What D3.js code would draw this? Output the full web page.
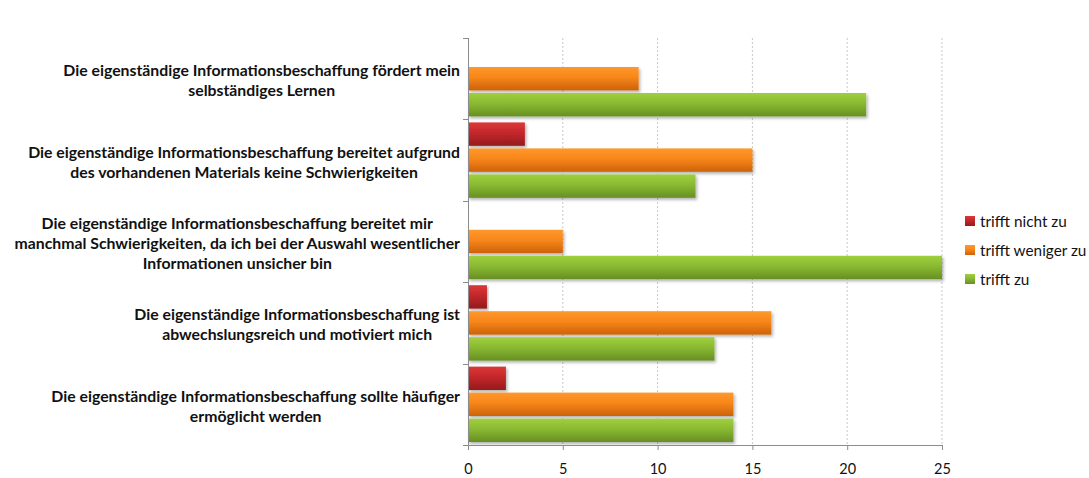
<!DOCTYPE html>
<html>
<head>
<meta charset="utf-8">
<script src="https://cdn.jsdelivr.net/npm/d3@7"></script>
<style>
  body { margin: 0; background: #fff; }
  svg { display: block; }
</style>
</head>
<body>
<svg id="chart" width="1089" height="478"></svg>
<script>
// Statements (one group of bars each), drawn top to bottom
const categories = [
  ["Die eigenständige Informationsbeschaffung fördert mein", "selbständiges Lernen"],
  ["Die eigenständige Informationsbeschaffung bereitet aufgrund", "des vorhandenen Materials keine Schwierigkeiten"],
  ["Die eigenständige Informationsbeschaffung bereitet mir", "manchmal Schwierigkeiten, da ich bei der Auswahl wesentlicher", "Informationen unsicher bin"],
  ["Die eigenständige Informationsbeschaffung ist", "abwechslungsreich und motiviert mich"],
  ["Die eigenständige Informationsbeschaffung sollte häufiger", "ermöglicht werden"]
];
const seriesNames = ["trifft nicht zu", "trifft weniger zu", "trifft zu"];
const trifftNichtZu = [0, 3, 0, 1, 2];
const trifftWenigerZu = [9, 15, 5, 16, 14];
const trifftZu = [21, 12, 25, 13, 14];
const xTicks = [0, 5, 10, 15, 20, 25];

const seriesValues = [trifftNichtZu, trifftWenigerZu, trifftZu];
const colors = [
  { top: "#dc3838", mid: "#c2272b", bottom: "#951a1c" },
  { top: "#ff982c", mid: "#f7861a", bottom: "#cc6208" },
  { top: "#a0cf3d", mid: "#89b932", bottom: "#678f23" }
];

const svg = d3.select("#chart");
const margin = { left: 468, right: 147, top: 38, bottom: 33 };
const W = 1089, H = 478;
const fontFamily = "Lato, 'Open Sans', sans-serif";

const x = d3.scaleLinear().domain([0, 25]).range([margin.left, W - margin.right]);
const y0 = d3.scaleBand().domain(d3.range(categories.length)).range([margin.top, H - margin.bottom]).padding(0);
const y1 = d3.scaleBand().domain(d3.range(seriesNames.length)).range([3, y0.bandwidth() - 3]).paddingInner(0.1);

const defs = svg.append("defs");
colors.forEach((c, i) => {
  const g = defs.append("linearGradient").attr("id", "grad" + i)
    .attr("x1", 0).attr("y1", 0).attr("x2", 0).attr("y2", 1);
  g.append("stop").attr("offset", "0%").attr("stop-color", c.top);
  g.append("stop").attr("offset", "45%").attr("stop-color", c.mid);
  g.append("stop").attr("offset", "100%").attr("stop-color", c.bottom);
});
const f = defs.append("filter").attr("id", "shadow")
  .attr("x", "-5%").attr("y", "-20%").attr("width", "115%").attr("height", "160%");
f.append("feDropShadow").attr("dx", 1.5).attr("dy", 2).attr("stdDeviation", 1.5)
  .attr("flood-color", "#000").attr("flood-opacity", 0.3);

// vertical dashed gridlines
svg.append("g").selectAll("line").data(xTicks.slice(1)).join("line")
  .attr("x1", d => x(d)).attr("x2", d => x(d))
  .attr("y1", margin.top).attr("y2", H - margin.bottom)
  .attr("stroke", "#c8c8c8").attr("stroke-dasharray", "2,2").attr("stroke-width", 1);

// bars
const groups = svg.append("g").selectAll("g").data(categories).join("g")
  .attr("transform", (d, i) => `translate(0,${y0(i)})`);
groups.selectAll("rect")
  .data((d, i) => seriesValues.map((vals, s) => ({ s, v: vals[i] })))
  .join("rect")
  .filter(d => d.v > 0)
  .attr("x", x(0))
  .attr("y", d => y1(d.s))
  .attr("width", d => x(d.v) - x(0))
  .attr("height", y1.bandwidth())
  .attr("fill", d => `url(#grad${d.s})`)
  .attr("filter", "url(#shadow)");

// axes
const axisColor = "#8c8c8c";
const xAxis = svg.append("g").attr("transform", `translate(0,${H - margin.bottom})`)
  .call(d3.axisBottom(x).tickValues(xTicks).tickSize(5).tickPadding(14));
xAxis.select(".domain").attr("stroke", axisColor).attr("d", `M${x(0) - 5},0.5H${x(25)}`);
xAxis.selectAll(".tick line").attr("stroke", axisColor);
xAxis.selectAll("text").attr("fill", "#111").style("font-family", fontFamily).style("font-size", "14.5px");

const yAxisG = svg.append("g").attr("transform", `translate(${margin.left},0)`);
yAxisG.append("line").attr("x1", 0.5).attr("x2", 0.5).attr("y1", margin.top).attr("y2", H - margin.bottom)
  .attr("stroke", axisColor);
yAxisG.selectAll("line.tk").data(d3.range(categories.length + 1)).join("line").attr("class", "tk")
  .attr("x1", -5).attr("x2", 0)
  .attr("y1", i => Math.round(margin.top + i * y0.step()) + 0.5)
  .attr("y2", i => Math.round(margin.top + i * y0.step()) + 0.5)
  .attr("stroke", axisColor);

// category labels: each block is centred on its own widest line,
// and the block's right edge sits just left of the axis
const lineH = 20;
const labelRight = margin.left - 8;
svg.append("g").selectAll("text").data(categories).join("text")
  .attr("text-anchor", "middle")
  .attr("fill", "#111")
  .style("font-family", fontFamily)
  .style("font-weight", "bold")
  .style("font-size", "15.8px")
  .each(function (lines, i) {
    const cy = y0(i) + y0.bandwidth() / 2 + 2;
    const startY = cy - (lines.length - 1) * lineH / 2;
    const spans = d3.select(this).selectAll("tspan").data(lines).join("tspan")
      .attr("y", (l, k) => startY + k * lineH)
      .attr("dy", "0.35em")
      .text(l => l);
    const maxW = d3.max(spans.nodes(), n => n.getComputedTextLength());
    spans.attr("x", labelRight - maxW / 2);
  });

// legend
const legend = svg.append("g").attr("transform", "translate(965,222)");
const li = legend.selectAll("g").data(seriesNames).join("g")
  .attr("transform", (d, i) => `translate(0,${i * 29})`);
li.append("rect").attr("x", 0).attr("y", -6).attr("width", 10).attr("height", 10)
  .attr("fill", (d, i) => `url(#grad${i})`);
li.append("text").attr("x", 15).attr("y", 0).attr("dy", "0.35em")
  .attr("fill", "#111")
  .style("font-family", fontFamily).style("font-size", "15.3px")
  .text(d => d);
</script>
</body>
</html>
